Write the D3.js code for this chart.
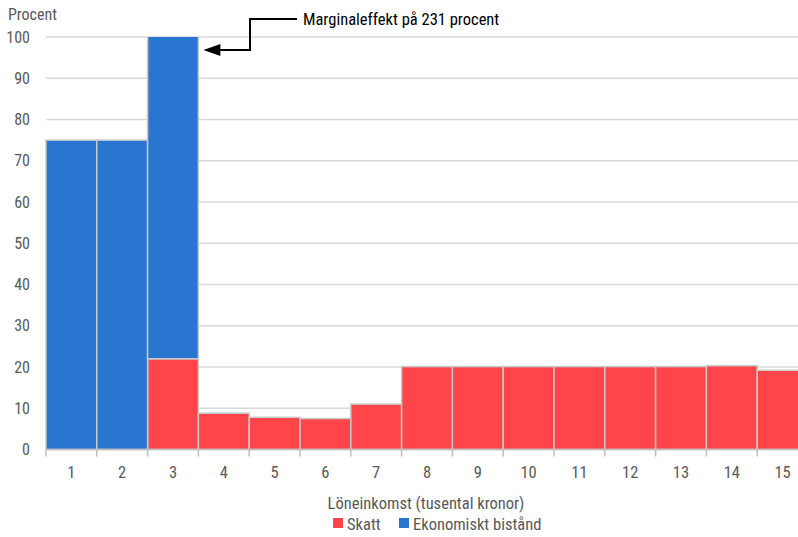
<!DOCTYPE html>
<html><head><meta charset="utf-8">
<script src="https://cdn.jsdelivr.net/npm/d3@7"></script>
<style>
body{margin:0;background:#fff;overflow:hidden;}
text{font-family:"Liberation Sans Narrow","Roboto Condensed","Liberation Sans",sans-serif;fill:#595959;}
</style></head><body>
<svg id="c" width="798" height="537"></svg>
<script>
const categories = ["1","2","3","4","5","6","7","8","9","10","11","12","13","14","15"];
const skatt = [0,0,22,8.8,7.8,7.5,11,20.1,20.1,20.1,20.1,20.1,20.1,20.3,19.2];
const bistand = [75,75,209,0,0,0,0,0,0,0,0,0,0,0,0];
const seriesNames = ["Skatt","Ekonomiskt bistånd"];
const colors = ["#FF444A","#2876CF"];
const yTicks = [0,10,20,30,40,50,60,70,80,90,100];
const annotation = "Marginaleffekt på 231 procent";

const svg = d3.select("#c");
const L=46,R=808,T=37,B=449.5;
const x = d3.scaleBand().domain(categories).range([L,R]).padding(0);
const y = d3.scaleLinear().domain([0,100]).range([B,T]);

svg.append("defs").append("clipPath").attr("id","clip").append("rect")
  .attr("x",L-2).attr("y",T).attr("width",R-L+4).attr("height",B-T+2);

// gridlines
svg.append("g").selectAll("line").data(yTicks.filter(d=>d>0)).join("line")
  .attr("x1",L).attr("x2",R).attr("y1",d=>y(d)).attr("y2",d=>y(d))
  .attr("stroke","#d9d9d9").attr("stroke-width",1.5);

// y labels
svg.append("g").selectAll("text").data(yTicks).join("text")
  .attr("x",30).attr("y",d=>y(d)).attr("dy","0.35em").attr("text-anchor","end")
  .attr("font-size",16).text(d=>d);

svg.append("text").attr("x",8).attr("y",20).attr("font-size",16).text("Procent");

const rows = categories.map((c,i)=>({c, s:skatt[i], b:bistand[i]}));
const stack = d3.stack().keys(["s","b"])(rows);
const g = svg.append("g").attr("clip-path","url(#clip)");
stack.forEach((layer,k)=>{
  g.append("g").selectAll("rect").data(layer.filter(d=>d[1]>d[0])).join("rect")
    .attr("x",d=>x(d.data.c)).attr("width",x.bandwidth())
    .attr("y",d=>y(d[1])).attr("height",d=>y(d[0])-y(d[1]))
    .attr("fill",colors[k]).attr("stroke","#c8c8c8").attr("stroke-width",1.5);
});

// x axis
const ax = svg.append("g");
ax.append("line").attr("x1",L).attr("x2",R).attr("y1",B).attr("y2",B).attr("stroke","#bfbfbf").attr("stroke-width",1.5);
const bounds = categories.map(c=>x(c)).concat([R]);
ax.selectAll("line.t").data(bounds).join("line").attr("class","t")
  .attr("x1",d=>d).attr("x2",d=>d).attr("y1",B).attr("y2",B+7).attr("stroke","#bfbfbf").attr("stroke-width",1.5);
ax.selectAll("text").data(categories).join("text")
  .attr("x",d=>x(d)+x.bandwidth()/2).attr("y",478).attr("text-anchor","middle")
  .attr("font-size",16.5).text(d=>d);

svg.append("text").attr("x",426).attr("y",509).attr("text-anchor","middle").attr("font-size",16.5)
  .text("Löneinkomst (tusental kronor)");

// legend
const leg = svg.append("g");
const lx=[333,399];
seriesNames.forEach((n,i)=>{
  leg.append("rect").attr("x",lx[i]).attr("y",518).attr("width",10).attr("height",10).attr("fill",colors[i]);
  leg.append("text").attr("x",lx[i]+14).attr("y",530).attr("font-size",16.5).text(n);
});

// annotation
const xb = x("3")+x.bandwidth();
svg.append("path").attr("d",`M297,19 H250 V50 H${xb+20}`).attr("fill","none").attr("stroke","#000").attr("stroke-width",2);
svg.append("path").attr("d",`M${xb+5},50 L${xb+22},44 L${xb+22},56 Z`).attr("fill","#000");
svg.append("text").attr("x",303).attr("y",25).attr("font-size",16.5).style("fill","#000").text(annotation);
</script></body></html>
